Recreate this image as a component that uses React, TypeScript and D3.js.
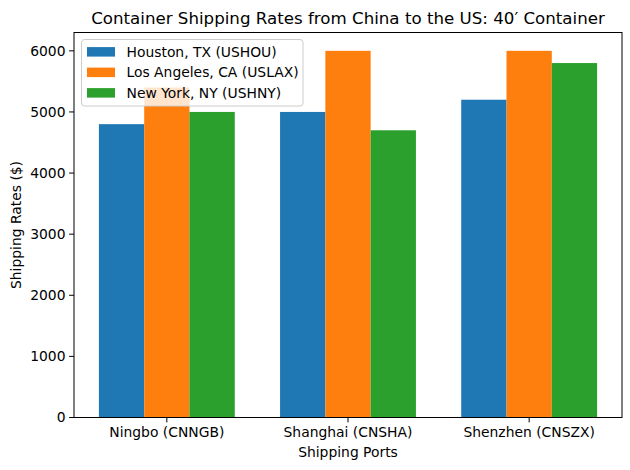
import React from "react";
import * as d3 from "d3";

const categories = ["Ningbo (CNNGB)", "Shanghai (CNSHA)", "Shenzhen (CNSZX)"];
const seriesNames = ["Houston, TX (USHOU)", "Los Angeles, CA (USLAX)", "New York, NY (USHNY)"];
const houston = [4800, 5000, 5200];
const losAngeles = [5400, 6000, 6000];
const newYork = [5000, 4700, 5800];
const yTicks = [0, 1000, 2000, 3000, 4000, 5000, 6000];
const colors = ["#1f77b4", "#ff7f0e", "#2ca02c"];

const W = 630;
const H = 470;
const left = 74;
const right = 622;
const top = 32.5;
const bottom = 417.5;
const font = "DejaVu Sans, sans-serif";
const fs = 13.89;

export default function App() {
  const series = [houston, losAngeles, newYork];
  const barW = 0.25;
  const x = d3.scaleLinear().domain([-0.5125, 2.5125]).range([left, right]);
  const y = d3.scaleLinear().domain([0, 6300]).range([bottom, top]);

  return (
    <svg width={W} height={H} style={{ position: "absolute", left: 0, top: 0, background: "#fff" }}>
      <rect x={0} y={0} width={W} height={H} fill="#fff" />
      {series.map((vals, si) =>
        vals.map((v, ci) => {
          const x0 = x(ci + (si - 1) * barW - barW / 2);
          const x1 = x(ci + (si - 1) * barW + barW / 2);
          return (
            <rect key={`${si}-${ci}`} x={x0} y={y(v)} width={x1 - x0} height={y(0) - y(v)} fill={colors[si]} />
          );
        })
      )}
      <rect x={left} y={top} width={right - left} height={bottom - top} fill="none" stroke="#000" strokeWidth={1} />
      {yTicks.map((t) => (
        <g key={t}>
          <line x1={left - 4.9} x2={left} y1={y(t)} y2={y(t)} stroke="#000" strokeWidth={1} />
          <text x={left - 8.5} y={y(t)} dy="0.35em" textAnchor="end" fontFamily={font} fontSize={fs} fill="#000">
            {t}
          </text>
        </g>
      ))}
      {categories.map((c, i) => (
        <g key={c}>
          <line x1={x(i)} x2={x(i)} y1={bottom} y2={bottom + 4.9} stroke="#000" strokeWidth={1} />
          <text x={x(i)} y={bottom + 8.5} dy="0.76em" textAnchor="middle" fontFamily={font} fontSize={fs} fill="#000">
            {c}
          </text>
        </g>
      ))}
      <text x={(left + right) / 2} y={457} textAnchor="middle" fontFamily={font} fontSize={fs} fill="#000">
        Shipping Ports
      </text>
      <text
        transform={`translate(21, ${(top + bottom) / 2}) rotate(-90)`}
        textAnchor="middle"
        fontFamily={font}
        fontSize={fs}
        fill="#000"
      >
        Shipping Rates ($)
      </text>
      <text x={(left + right) / 2} y={24} textAnchor="middle" fontFamily={font} fontSize={16.67} fill="#000">
        Container Shipping Rates from China to the US: 40′ Container
      </text>
      <rect x={81.5} y={39.5} width={221.5} height={66.5} rx={3} fill="#fff" fillOpacity={0.8} stroke="#cccccc" strokeWidth={1} />
      {seriesNames.map((n, i) => {
        const cy = 51.7 + i * 20.5;
        return (
          <g key={n}>
            <rect x={87} y={cy - 4.6} width={28} height={9.5} fill={colors[i]} />
            <text x={126.5} y={cy} dy="0.35em" fontFamily={font} fontSize={fs} fill="#000">
              {n}
            </text>
          </g>
        );
      })}
    </svg>
  );
}
